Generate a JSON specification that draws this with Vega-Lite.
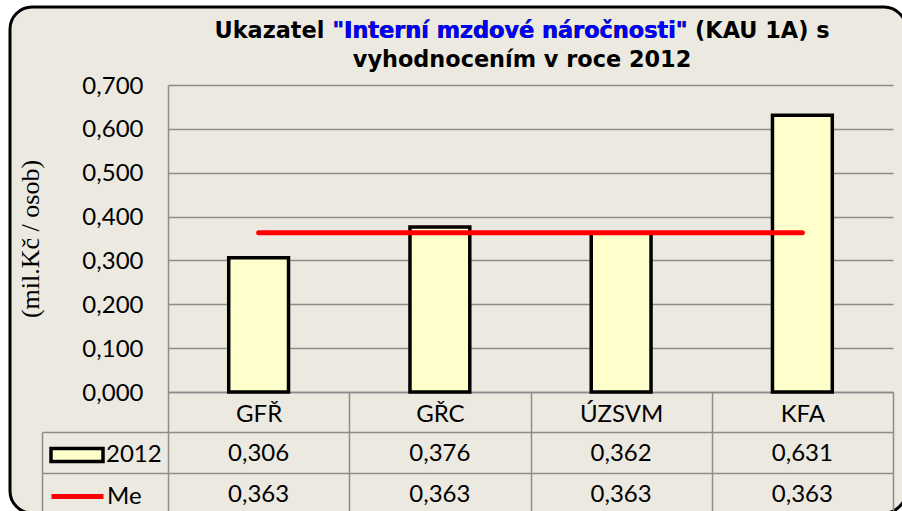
{
  "$schema": "https://vega.github.io/schema/vega-lite/v6.json",
  "width": 896,
  "height": 506,
  "autosize": {"type": "none"},
  "padding": {"left": 10, "top": 7, "right": 0, "bottom": 0},
  "background": "white",
  "config": {
    "locale": {"number": {"decimal": ",", "thousands": " ", "grouping": [3], "currency": ["", " Kč"]}},
    "view": {"fill": "#ECE9E0", "stroke": "black", "strokeWidth": 3, "cornerRadius": 22},
    "axis": {
      "labelFont": "Lato", "labelFontSize": 24, "labelColor": "black",
      "domainColor": "#8C8C8C", "domainWidth": 1.5,
      "tickColor": "#8C8C8C", "tickWidth": 1.5,
      "gridColor": "#8C8C8C", "gridWidth": 1.5
    },
    "legend": {
      "orient": "none", "title": null, "padding": 0, "labelOffset": 1,
      "labelFont": "Lato", "labelFontSize": 24, "labelColor": "black", "symbolSize": 2704
    }
  },
  "title": {
    "text": ["Ukazatel \"Interní mzdové náročnosti\" (KAU 1A) s", "vyhodnocením v roce 2012"],
    "subtitle": "\"Interní mzdové náročnosti\"\u00a0\u00a0\u00a0\u200b",
    "font": "DejaVu Sans", "fontWeight": "bold", "fontSize": 22.4, "color": "black", "lineHeight": 29,
    "subtitleFont": "DejaVu Sans", "subtitleFontWeight": "bold", "subtitleFontSize": 22.4, "subtitleColor": "#0000FF",
    "subtitlePadding": -51.4,
    "anchor": "middle", "frame": "group", "offset": -64, "dx": 64
  },
  "data": {
    "values": [
      {"cat": "GFŘ", "2012": 0.306, "Me": 0.363},
      {"cat": "GŘC", "2012": 0.376, "Me": 0.363},
      {"cat": "ÚZSVM", "2012": 0.362, "Me": 0.363},
      {"cat": "KFA", "2012": 0.631, "Me": 0.363}
    ]
  },
  "layer": [
    {
      "layer": [
        {
          "mark": {"type": "bar", "stroke": "black", "strokeWidth": 3.5, "width": {"band": 0.33}},
          "encoding": {
            "x": {
              "field": "cat", "type": "nominal", "sort": null,
              "scale": {"type": "band", "domain": ["GFŘ", "GŘC", "ÚZSVM", "KFA"], "range": [158, 883], "paddingInner": 0, "paddingOuter": 0},
              "axis": {"orient": "bottom", "offset": -121, "title": null, "labelAngle": 0, "tickBand": "extent", "tickSize": 122, "labelPadding": -112, "grid": false}
            },
            "y": {
              "field": "2012", "type": "quantitative",
              "scale": {"domain": [0, 0.7], "range": [385, 78], "nice": false, "zero": true},
              "axis": {
                "orient": "left", "offset": -158, "values": [0, 0.1, 0.2, 0.3, 0.4, 0.5, 0.6, 0.7], "format": ".3f",
                "grid": true, "ticks": false, "tickSize": 0, "labelPadding": 25, "labelOffset": 1,
                "title": "(mil.Kč / osob)", "titleFont": "Liberation Serif", "titleFontSize": 26, "titleFontWeight": "normal", "titleColor": "black", "titlePadding": 38
              }
            },
            "fill": {
              "datum": "2012",
              "scale": {"domain": ["2012"], "range": ["#FFFFCC"]},
              "legend": {
                "legendX": 39, "legendY": 420,
                "symbolType": "M-1,-0.25H1V0.25H-1Z",
                "symbolStrokeColor": "black", "symbolStrokeWidth": 3.5, "symbolFillColor": "#FFFFCC"
              }
            }
          }
        },
        {
          "mark": {"type": "line", "strokeWidth": 5, "strokeCap": "round"},
          "encoding": {
            "x": {"field": "cat", "type": "nominal", "sort": null, "scale": {"type": "band"}},
            "y": {"field": "Me", "type": "quantitative"},
            "stroke": {
              "datum": "Me",
              "scale": {"domain": ["Me"], "range": ["#FF0000"]},
              "legend": {
                "legendX": 39, "legendY": 461,
                "symbolType": "stroke", "symbolStrokeWidth": 5, "symbolStrokeColor": "#FF0000"
              }
            }
          }
        }
      ]
    },
    {
      "transform": [{"fold": ["2012", "Me"], "as": ["row", "val"]}],
      "mark": {"type": "text", "font": "Lato", "fontSize": 24, "color": "black", "baseline": "middle", "dy": 2},
      "encoding": {
        "x": {"field": "cat", "type": "nominal", "sort": null, "scale": {"type": "band"}, "axis": {"title": null}},
        "y": {
          "field": "row", "type": "nominal", "sort": null,
          "scale": {"type": "band", "domain": ["2012", "Me"], "range": [425, 506], "paddingInner": 0, "paddingOuter": 0},
          "axis": {"orient": "left", "offset": -32, "title": null, "labels": false, "tickBand": "extent", "tickSize": -126, "grid": true}
        },
        "text": {"field": "val", "type": "quantitative", "format": ".3f"}
      }
    }
  ],
  "resolve": {"scale": {"y": "independent"}, "axis": {"y": "independent"}}
}
